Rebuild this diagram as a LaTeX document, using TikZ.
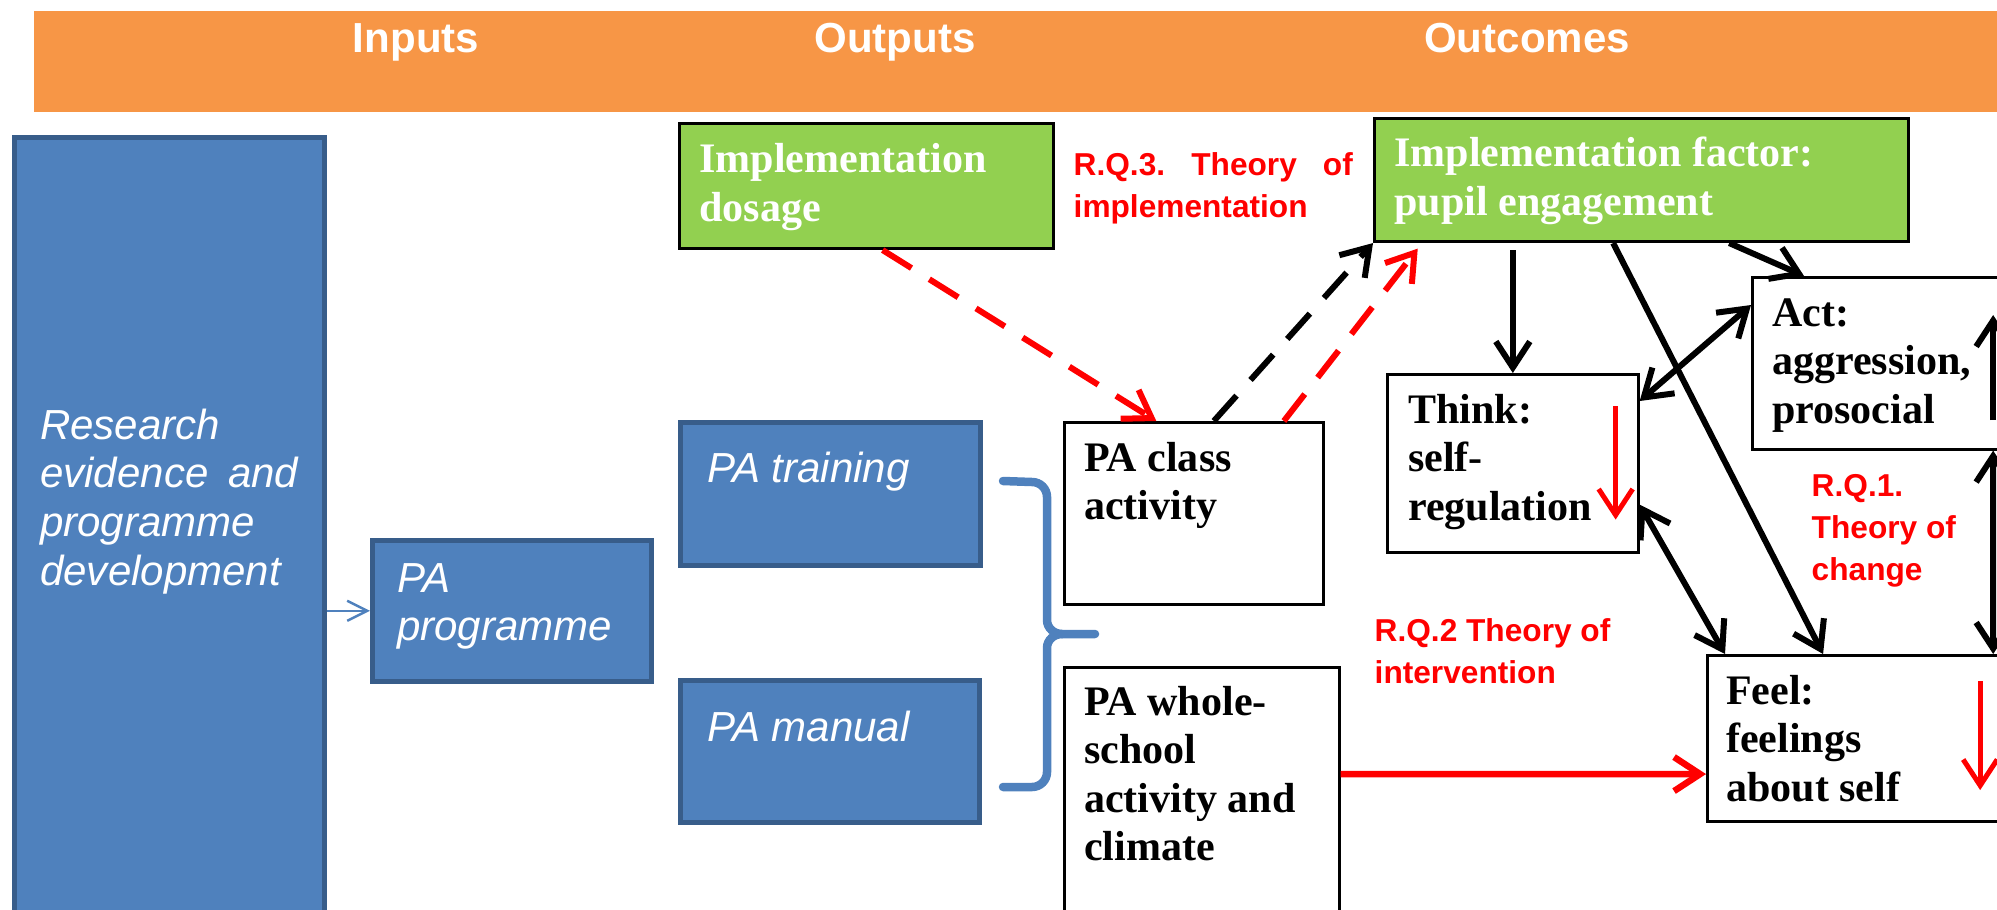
\documentclass[tikz,border=0pt]{standalone}
\usepackage{fontspec}
\setmainfont{Liberation Serif}
\setsansfont{Liberation Sans}
\usepackage{tikz}
\usetikzlibrary{arrows.meta}
\definecolor{bandorange}{RGB}{247,150,70}
\definecolor{paneblue}{RGB}{79,129,189}
\definecolor{paneedge}{RGB}{56,93,138}
\definecolor{panegreen}{RGB}{146,208,80}
\definecolor{rqred}{RGB}{255,0,0}

\begin{document}
\begin{tikzpicture}[x=0.01cm, y=-0.01cm,
  bluebox/.style={rectangle, draw=paneedge, line width=0.45mm, fill=paneblue,
             anchor=north west, align=flush left, inner ysep=0pt, text=white,
             font=\sffamily\itshape\fontsize{11.95}{13.8}\selectfont},
  greenbox/.style={rectangle, draw=black, line width=0.3mm, fill=panegreen,
             anchor=north west, align=flush left, inner xsep=0.2cm, inner ysep=0pt, text=white,
             font=\bfseries\fontsize{11.95}{13.8}\selectfont},
  whitebox/.style={rectangle, draw=black, line width=0.25mm, fill=white,
             anchor=north west, align=flush left, inner xsep=0.2cm, inner ysep=0pt,
             font=\bfseries\fontsize{11.95}{13.8}\selectfont},
  heading/.style={anchor=base, text=white, font=\sffamily\bfseries\fontsize{11.95}{14}\selectfont},
  rq/.style={anchor=base west, align=flush left, inner sep=0pt, text=rqred,
             font=\sffamily\bfseries\fontsize{9}{11.95}\selectfont},
  arrow/.style={-{Straight Barb[length=2.6mm,width=3.4mm]}, line width=0.6mm},
  twoway/.style={{Straight Barb[length=2.6mm,width=3.4mm]}-{Straight Barb[length=2.6mm,width=3.4mm]}, line width=0.6mm},
  dasharrow/.style={arrow, dash pattern=on 3.4mm off 2.1mm},
  redarrow/.style={arrow, draw=rqred, line width=0.5mm},
  bluebrace/.style={draw=paneblue, line width=0.85mm, line cap=round}]

\useasboundingbox (0,0) rectangle (1997,909);
\clip (0,0) rectangle (1997,909);

% header band
\fill[bandorange] (34,11) rectangle (1997,112);
\node[heading] (inputs)   at (416,52)  {Inputs};
\node[heading] (outputs)  at (895,52)  {Outputs};
\node[heading] (outcomes) at (1527,52) {Outcomes};

% inputs
\node[bluebox, inner xsep=0.26cm, text width=2.58cm, text height=3.02cm, text depth=5.23cm]
  (research) at (12,135) {Research\\evidence~ and\\programme\\development};
\node[bluebox, inner xsep=0.25cm, text width=2.29cm, text height=0.52cm, text depth=0.89cm]
  (prog) at (370,538) {PA\\programme};

% outputs
\node[bluebox, inner xsep=0.27cm, text width=2.46cm, text height=0.60cm, text depth=0.83cm]
  (training) at (678,420) {PA training};
\node[bluebox, inner xsep=0.27cm, text width=2.45cm, text height=0.61cm, text depth=0.81cm]
  (manual) at (678,678) {PA manual};
\node[greenbox, text width=3.34cm, text height=0.49cm, text depth=0.76cm]
  (dosage) at (678,122) {Implementation\\dosage};
\node[whitebox, text width=2.19cm, text height=0.49cm, text depth=1.33cm]
  (classact) at (1063,421) {PA class\\activity};
\node[whitebox, text width=2.35cm, text height=0.48cm, text depth=2.6cm]
  (whole) at (1063,666) {PA whole-\\school\\activity and\\climate};

% outcomes
\node[greenbox, text width=4.94cm, text height=0.48cm, text depth=0.75cm]
  (factor) at (1373,117) {Implementation factor:\\pupil engagement};
\node[whitebox, inner xsep=0.21cm, text width=2.09cm, text height=0.49cm, text depth=1.29cm]
  (think) at (1386,373) {Think:\\self-\\regulation};
\node[whitebox, text width=2.6cm, text height=0.49cm, text depth=1.23cm]
  (act) at (1751,276) {Act:\\aggression,\\prosocial};
\node[whitebox, inner xsep=0.19cm, text width=3.06cm, text height=0.49cm, text depth=1.17cm]
  (feel) at (1706,654) {Feel:\\feelings\\about self};

% research questions
\node[rq, text width=2.79cm] (rq3) at (1073,175) {R.Q.3.\hfill Theory\hfill of\\implementation};
\node[rq, text width=2.5cm]  (rq2) at (1374,641) {R.Q.2 Theory of\\intervention};
\node[rq, text width=1.7cm]  (rq1) at (1811,496) {R.Q.1.\\Theory of\\change};

\draw[-{Straight Barb[length=2mm,width=2mm]}, draw=paneblue, line width=0.25mm]
  (research.east |- prog.west) -- (prog.west);
\draw[bluebrace] (1003,481) -- (1032,482) to[out=0,in=90] (1047,497) -- (1047,620)
  to[out=-90,in=180] (1062,634) -- (1095,634);
\draw[bluebrace] (1062,634) to[out=180,in=90] (1047,648) -- (1047,772)
  to[out=-90,in=0] (1032,787) -- (1003,787);

\draw[dasharrow, draw=rqred] ([xshift=0.16cm]dosage.south) -- ([xshift=-0.375cm]classact.north);
\draw[dasharrow] ([xshift=0.2cm]classact.north) -- (factor.south west);
\draw[dasharrow, draw=rqred, shorten >=0.07cm] ([xshift=0.9cm]classact.north) -- ([xshift=0.49cm]factor.south west);

\draw[arrow, shorten <=0.07cm] (think.north |- factor.south) -- (think.north);
\draw[arrow] ([xshift=-1.81cm]factor.south east) -- ([xshift=0.53cm]act.north west);
\draw[arrow] ([xshift=2.4cm]factor.south west) -- ([xshift=1.17cm]feel.north west);
\draw[twoway] ([yshift=-0.28cm]think.north east) -- ([yshift=-0.29cm]act.north west);
\draw[twoway] ([yshift=0.49cm]think.south east) -- ([xshift=0.19cm]feel.north west);
\draw[twoway] ([xshift=2.42cm]act.south west) -- ([xshift=2.87cm]feel.north west);
\draw[arrow] ([xshift=2.42cm,yshift=-1.44cm]act.north west) -- ([xshift=2.42cm,yshift=-0.39cm]act.north west);

\draw[redarrow] ([xshift=-0.24cm,yshift=-0.33cm]think.north east) -- ([xshift=-0.24cm,yshift=0.34cm]think.south east);
\draw[redarrow] ([xshift=2.74cm,yshift=-0.27cm]feel.north west) -- ([xshift=2.74cm,yshift=-1.36cm]feel.north west);
\draw[arrow, draw=rqred, line width=0.65mm] ([yshift=-1.08cm]whole.north east) -- ([yshift=-1.2cm]feel.north west);
\end{tikzpicture}
\end{document}
